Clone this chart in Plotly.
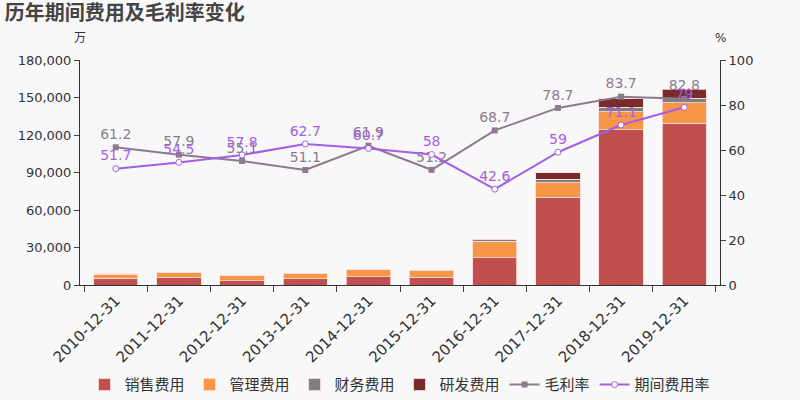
import plotly.graph_objects as go

years = ["2010-12-31", "2011-12-31", "2012-12-31", "2013-12-31", "2014-12-31",
         "2015-12-31", "2016-12-31", "2017-12-31", "2018-12-31", "2019-12-31"]
sales = [5300, 5900, 3500, 5100, 6700, 6400, 21900, 70400, 124300, 129300]
admin = [3500, 4000, 4000, 4200, 5800, 5100, 13000, 11500, 14400, 16600]
finance = [100, 100, 100, 100, 300, 200, 1600, 2900, 3700, 3700]
rnd = [0, 0, 0, 0, 0, 0, 0, 5100, 6700, 7000]
gross_margin = [61.2, 57.9, 55.1, 51.1, 61.9, 51.2, 68.7, 78.7, 83.7, 82.8]
expense_rate = [51.7, 54.5, 57.8, 62.7, 60.7, 58, 42.6, 59, 71.1, 79]

font_family = "DejaVu Sans, Noto Sans CJK SC, sans-serif"
bar_line = dict(color="rgba(255,220,220,0.8)", width=1)

fig = go.Figure()
for name, vals, col in [("销售费用", sales, "#c0504d"), ("管理费用", admin, "#f79646"),
                        ("财务费用", finance, "#7f7f7f"), ("研发费用", rnd, "#772c2a")]:
    fig.add_trace(go.Bar(x=years, y=vals, name=name, marker=dict(color=col, line=bar_line),
                         yaxis="y"))

fig.add_trace(go.Scatter(x=years, y=gross_margin, name="毛利率", yaxis="y2",
                         mode="lines+markers+text", text=[str(v) for v in gross_margin],
                         textposition="top center",
                         textfont=dict(color="#8e7a8f", size=14),
                         line=dict(color="#8e7a8f", width=2),
                         marker=dict(symbol="square", size=6, color="#8e7a8f")))
fig.add_trace(go.Scatter(x=years, y=expense_rate, name="期间费用率", yaxis="y2",
                         mode="lines+markers+text", text=[str(v) for v in expense_rate],
                         textposition="top center",
                         textfont=dict(color="#a45ee5", size=14),
                         line=dict(color="#a45ee5", width=2),
                         marker=dict(symbol="circle", size=6, color="white",
                                     line=dict(color="#a45ee5", width=1))))

fig.update_layout(
    width=800, height=400,
    barmode="stack", bargap=0.3,
    paper_bgcolor="#f8f8f8", plot_bgcolor="#f8f8f8",
    font=dict(family=font_family, color="#333333"),
    margin=dict(l=80, r=80, t=60, b=115, autoexpand=False),
    title=dict(text="<b>历年期间费用及毛利率变化</b>", x=0.006, xanchor="left", y=0.968,
               yanchor="middle", font=dict(size=20, color="#444444")),
    xaxis=dict(type="category", tickangle=-45, tickson="boundaries", ticks="outside",
               ticklen=6, showline=True, linecolor="#333333", linewidth=1, automargin=False,
               tickfont=dict(size=15, color="#333333"), showgrid=False),
    yaxis=dict(range=[0, 180000], dtick=30000, tickformat=",", ticks="outside", ticklen=5,
               showline=True, linecolor="#333333", linewidth=1, showgrid=False, automargin=False,
               zeroline=False, tickfont=dict(size=13, color="#333333")),
    yaxis2=dict(range=[0, 100], dtick=20, overlaying="y", side="right", ticks="outside",
                ticklen=5, showline=True, linecolor="#333333", linewidth=1, showgrid=False,
                automargin=False,
                zeroline=False, tickfont=dict(size=13, color="#333333")),
    legend=dict(orientation="h", xref="container", x=0.5, xanchor="center",
                yref="container", y=0.038, yanchor="middle",
                traceorder="normal",
                font=dict(size=15, color="#333333"), bgcolor="rgba(0,0,0,0)"),
    showlegend=True,
    annotations=[
        dict(text="万", x=0, xref="paper", xanchor="center", y=1 + 22 / 225, yref="paper",
             yanchor="middle", showarrow=False, font=dict(size=12)),
        dict(text="%", x=1, xref="paper", xanchor="center", y=1 + 22 / 225, yref="paper",
             yanchor="middle", showarrow=False, font=dict(size=12)),
    ],
)

fig.write_html("out.html", config={"displayModeBar": False},
               post_script="document.body.style.margin='0px';")
